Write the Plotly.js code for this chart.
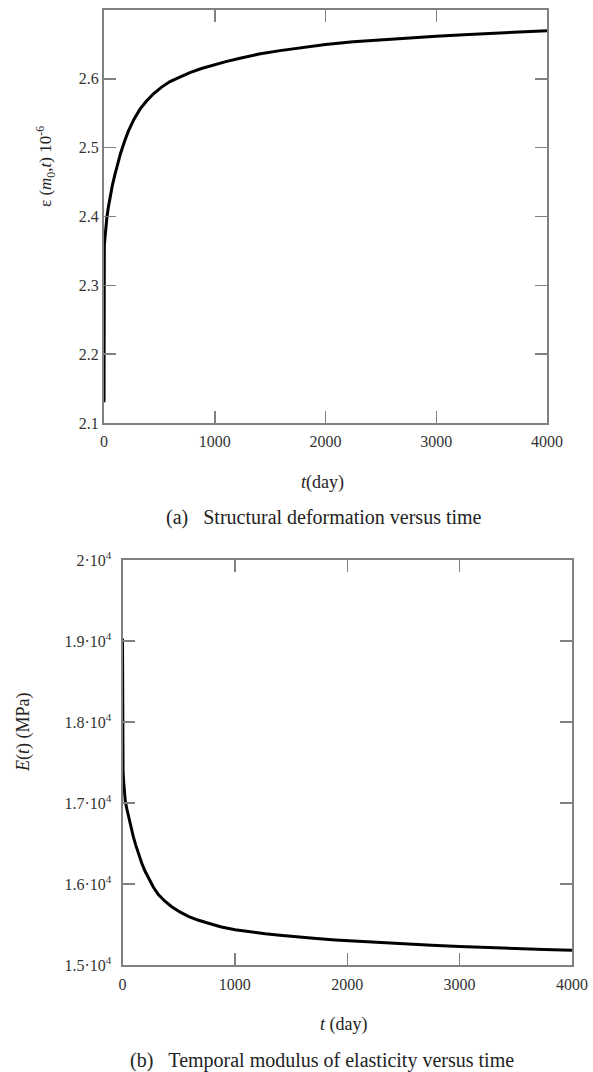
<!DOCTYPE html>
<html>
<head>
<meta charset="utf-8">
<script src="https://cdn.plot.ly/plotly-3.0.1.min.js"></script>
<style>html,body{margin:0;padding:0;background:#fff;}#chart{width:593px;height:1072px;}</style>
</head>
<body>
<div id="chart"></div>
<script>
// (a) structural deformation versus time
const tDaysA = [0, 0.5, 3, 8, 15, 27, 40, 55, 75, 100, 125, 150, 185, 220, 270, 325, 380, 444, 520, 596, 690, 776, 880, 985, 1100, 1228, 1400, 1589, 1800, 2000, 2250, 2500, 2750, 3000, 3250, 3500, 3750, 4000];
const strainA = [2.13, 2.35, 2.358, 2.368, 2.382, 2.400, 2.414, 2.428, 2.445, 2.462, 2.478, 2.492, 2.509, 2.524, 2.541, 2.556, 2.567, 2.578, 2.588, 2.596, 2.603, 2.609, 2.615, 2.620, 2.625, 2.630, 2.636, 2.641, 2.646, 2.650, 2.654, 2.657, 2.660, 2.662, 2.664, 2.666, 2.668, 2.670];

// (b) temporal modulus of elasticity versus time
const tDaysB = [0, 0.5, 5, 11, 18, 25, 40, 55, 75, 95, 118, 145, 171, 200, 235, 275, 319, 375, 438, 510, 586, 670, 765, 880, 1002, 1130, 1270, 1400, 1537, 1700, 1893, 2100, 2300, 2500, 2750, 3000, 3250, 3500, 3750, 4000];
const modulusB = [19030, 17550, 17380, 17250, 17120, 17020, 16920, 16820, 16700, 16590, 16480, 16360, 16260, 16160, 16060, 15960, 15870, 15790, 15720, 15655, 15600, 15555, 15515, 15470, 15435, 15408, 15386, 15368, 15348, 15330, 15310, 15292, 15276, 15261, 15243, 15227, 15213, 15202, 15192, 15183];

const xTicks = [0, 1000, 2000, 3000, 4000];
const yTicksA = [2.1, 2.2, 2.3, 2.4, 2.5, 2.6];
const yTicksB = [15000, 16000, 17000, 18000, 19000, 20000];
const yTickTextB = ['1.5·10<sup>4</sup>', '1.6·10<sup>4</sup>', '1.7·10<sup>4</sup>', '1.8·10<sup>4</sup>', '1.9·10<sup>4</sup>', '2·10<sup>4</sup>'];

const W = 593, H = 1072;
const px = v => v / W;
const py = v => 1 - v / H;

const serif = '"Liberation Serif", "Times New Roman", serif';
const axisCommon = {
  showgrid: false, zeroline: false,
  showline: true, linecolor: '#808080', linewidth: 2,
  mirror: 'ticks', ticks: 'inside', ticklen: 12, tickwidth: 1.5, tickcolor: '#808080',
  tickfont: {family: serif, size: 16, color: '#333'},
  automargin: false, fixedrange: true
};

const traces = [
  {x: tDaysA, y: strainA, xaxis: 'x', yaxis: 'y', type: 'scatter', mode: 'lines',
   line: {color: '#000', width: 3}, hoverinfo: 'skip'},
  {x: tDaysB, y: modulusB, xaxis: 'x2', yaxis: 'y2', type: 'scatter', mode: 'lines',
   line: {color: '#000', width: 3}, hoverinfo: 'skip'}
];

const layout = {
  width: W, height: H,
  margin: {l: 0, r: 0, t: 0, b: 0},
  paper_bgcolor: '#fff', plot_bgcolor: '#fff',
  showlegend: false,
  xaxis: Object.assign({}, axisCommon, {domain: [px(104), px(547)], range: [0, 4000], tickvals: xTicks, anchor: 'y', ticklabelstandoff: 3}),
  yaxis: Object.assign({}, axisCommon, {domain: [py(423), py(10)], range: [2.1, 2.7], tickvals: yTicksA, tickformat: '.1f', anchor: 'x'}),
  xaxis2: Object.assign({}, axisCommon, {domain: [px(122.5), px(572)], range: [0, 4000], tickvals: xTicks, anchor: 'y2', ticklabelstandoff: 4}),
  yaxis2: Object.assign({}, axisCommon, {domain: [py(965), py(560)], range: [15000, 20000], tickvals: yTicksB, ticktext: yTickTextB, anchor: 'x2', ticklabelstandoff: 6}),
  annotations: [
    {xref: 'paper', yref: 'paper', x: px(45), y: py(167), text: 'ε (<i>m</i><sub>0</sub>,<i>t</i>) 10<sup>-6</sup>', textangle: -90,
     showarrow: false, font: {family: serif, size: 17, color: '#222'}, xanchor: 'center', yanchor: 'middle'},
    {xref: 'paper', yref: 'paper', x: px(322), y: py(482), text: '<i>t</i>(day)',
     showarrow: false, font: {family: serif, size: 18, color: '#222'}, xanchor: 'center', yanchor: 'middle'},
    {xref: 'paper', yref: 'paper', x: px(324), y: py(517), text: '(a)\u00A0\u00A0\u00A0Structural deformation versus time',
     showarrow: false, font: {family: serif, size: 20, color: '#222'}, xanchor: 'center', yanchor: 'middle'},
    {xref: 'paper', yref: 'paper', x: px(23), y: py(732), text: '<i>E</i>(<i>t</i>) (MPa)', textangle: -90,
     showarrow: false, font: {family: serif, size: 18, color: '#222'}, xanchor: 'center', yanchor: 'middle'},
    {xref: 'paper', yref: 'paper', x: px(344), y: py(1024), text: '<i>t</i> (day)',
     showarrow: false, font: {family: serif, size: 18, color: '#222'}, xanchor: 'center', yanchor: 'middle'},
    {xref: 'paper', yref: 'paper', x: px(322), y: py(1060), text: '(b)\u00A0\u00A0\u00A0Temporal modulus of elasticity versus time',
     showarrow: false, font: {family: serif, size: 20, color: '#222'}, xanchor: 'center', yanchor: 'middle'}
  ]
};

Plotly.newPlot('chart', traces, layout, {staticPlot: true, displayModeBar: false});
</script>
</body>
</html>
